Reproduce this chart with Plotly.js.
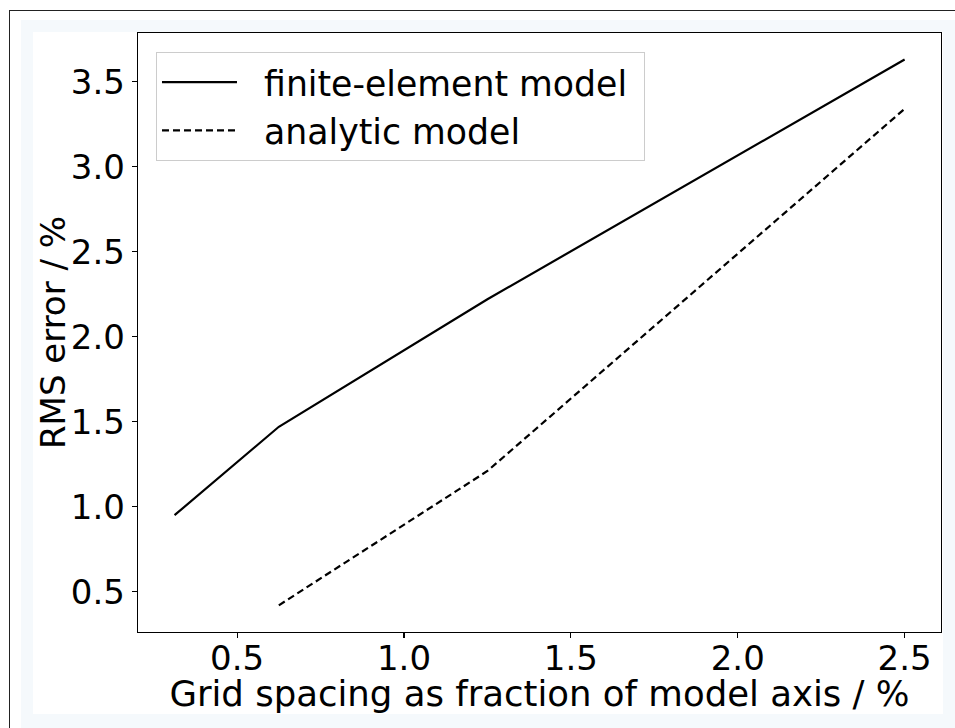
<!DOCTYPE html>
<html>
<head>
<meta charset="utf-8">
<script src="https://cdn.plot.ly/plotly-3.0.1.min.js"></script>
<style>
  html, body { margin: 0; padding: 0; background: #ffffff; width: 955px; height: 728px; overflow: hidden; }
  #frame { position: absolute; left: 9px; top: 10px; width: 946px; height: 718px;
           border-left: 1.5px solid #222; border-top: 1.5px solid #222; box-sizing: border-box; }
  #light { position: absolute; left: 21px; top: 20px; width: 934px; height: 708px; background: #f5f9fc; }
  #chart { position: absolute; left: 33px; top: 32px; width: 910px; height: 682px; }
</style>
</head>
<body>
<div id="frame"></div>
<div id="light"></div>
<div id="chart"></div>
<script>
// Data
const feX = [0.3125, 0.625, 1.25, 2.5];
const feY = [0.95, 1.47, 2.22, 3.63];
const anX = [0.625, 1.25, 2.5];
const anY = [0.42, 1.21, 3.34];
const xTicks = [0.5, 1.0, 1.5, 2.0, 2.5];
const yTicks = [0.5, 1.0, 1.5, 2.0, 2.5, 3.0, 3.5];
const seriesNames = ['finite-element model', 'analytic model'];
const xTitle = 'Grid spacing as fraction of model axis / %';
const yTitle = 'RMS error / %';

const FONT = 'DejaVu Sans, sans-serif';
const FS = 34;
const GAP = '\u00a0\u00a0';

const traces = [
  { x: feX, y: feY, name: GAP + seriesNames[0] + '\u00a0', mode: 'lines', type: 'scatter',
    line: { color: '#000000', width: 2.2, dash: 'solid' } },
  { x: anX, y: anY, name: GAP + seriesNames[1], mode: 'lines', type: 'scatter',
    line: { color: '#000000', width: 2.2, dash: '7px,4px' } }
];

const axisCommon = {
  showgrid: false, zeroline: false, showline: true, mirror: true,
  linecolor: '#000000', linewidth: 1.3,
  ticks: 'outside', ticklen: 5, tickwidth: 1.2, tickcolor: '#000000',
  tickfont: { family: FONT, size: FS, color: '#000000' },
  tickformat: '.1f', tickmode: 'array'
};

const layout = {
  width: 910, height: 682,
  paper_bgcolor: '#ffffff', plot_bgcolor: '#ffffff',
  margin: { l: 105, r: 2, t: 1, b: 82, pad: 0 },
  font: { family: FONT, size: FS, color: '#000000' },
  showlegend: true,
  legend: {
    x: 0.0224, y: 0.968, xanchor: 'left', yanchor: 'top',
    bgcolor: '#ffffff', bordercolor: '#cccccc', borderwidth: 1,
    font: { family: FONT, size: 34.7, color: '#000000' },
    itemwidth: 75, tracegroupgap: 0
  },
  xaxis: Object.assign({}, axisCommon, {
    range: [0.203, 2.609], tickvals: xTicks, ticklabelstandoff: -9,
    title: { text: xTitle, font: { family: FONT, size: 35.5, color: '#000000' }, standoff: 1 }
  }),
  yaxis: Object.assign({}, axisCommon, {
    range: [0.263, 3.786], tickvals: yTicks,
    title: { text: yTitle, font: { family: FONT, size: FS, color: '#000000' }, standoff: 16 }
  })
};

Plotly.newPlot('chart', traces, layout, { displayModeBar: false, staticPlot: true });
</script>
</body>
</html>
